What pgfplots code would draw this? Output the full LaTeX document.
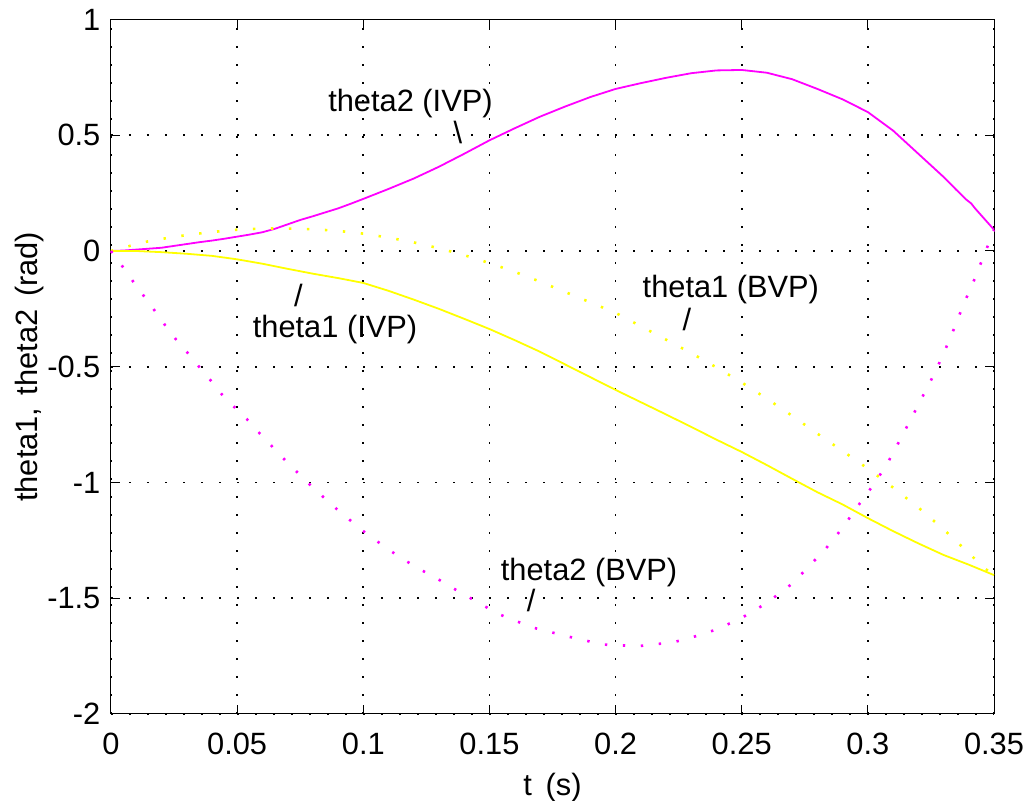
\documentclass[border=0pt]{standalone}
\usepackage{pgfplots}
\pgfplotsset{compat=1.18}
\usepackage{fontspec}
\setmainfont{Liberation Sans}
\definecolor{mmag}{rgb}{1,0,1}
\definecolor{myel}{rgb}{1,1,0}

% joint angles, initial value vs boundary value solution
\pgfplotstableread{
t       th
0       0
0.005   0.002
0.01    0.006
0.015   0.010
0.02    0.014
0.025   0.022
0.03    0.030
0.035   0.038
0.04    0.045
0.045   0.053
0.05    0.062
0.055   0.071
0.06    0.081
0.065   0.096
0.07    0.115
0.075   0.134
0.08    0.150
0.085   0.167
0.09    0.184
0.095   0.204
0.10    0.225
0.11    0.268
0.12    0.313
0.13    0.364
0.135   0.392
0.14    0.420
0.15    0.478
0.16    0.530
0.17    0.580
0.18    0.624
0.19    0.665
0.20    0.700
0.21    0.725
0.22    0.748
0.23    0.768
0.24    0.780
0.25    0.782
0.26    0.770
0.27    0.742
0.28    0.700
0.29    0.655
0.30    0.600
0.31    0.520
0.32    0.420
0.33    0.320
0.335   0.265
0.339   0.222
0.341   0.205
0.3425  0.184
0.35    0.092
}\thetaTwoIVP

\pgfplotstableread{
t       th
0       0
0.01    0.000
0.02    -0.005
0.03    -0.012
0.04    -0.021
0.05    -0.036
0.06    -0.055
0.07    -0.077
0.08    -0.098
0.09    -0.117
0.10    -0.138
0.11    -0.172
0.12    -0.210
0.13    -0.250
0.14    -0.293
0.15    -0.337
0.16    -0.385
0.17    -0.435
0.18    -0.490
0.19    -0.545
0.20    -0.600
0.21    -0.653
0.22    -0.706
0.23    -0.760
0.24    -0.815
0.25    -0.868
0.26    -0.925
0.27    -0.984
0.28    -1.042
0.29    -1.095
0.30    -1.154
0.31    -1.210
0.32    -1.263
0.33    -1.313
0.34    -1.355
0.35    -1.400
}\thetaOneIVP

\pgfplotstableread{
t       th
0       0
0.0075  0.022
0.014   0.040
0.02    0.052
0.03    0.069
0.04    0.082
0.05    0.092
0.06    0.097
0.07    0.097
0.08    0.094
0.09    0.087
0.10    0.075
0.11    0.058
0.12    0.037
0.13    0.012
0.14    -0.018
0.15    -0.052
0.16    -0.090
0.17    -0.132
0.18    -0.177
0.19    -0.222
0.20    -0.267
0.21    -0.325
0.22    -0.383
0.23    -0.441
0.24    -0.503
0.25    -0.568
0.26    -0.638
0.27    -0.712
0.28    -0.789
0.29    -0.864
0.30    -0.940
0.31    -1.022
0.32    -1.108
0.33    -1.202
0.34    -1.305
0.345   -1.357
0.35    -1.405
}\thetaOneBVP

\pgfplotstableread{
t       th
0       0
0.00463 -0.068
0.00885 -0.133
0.013   -0.194
0.0172  -0.256
0.0214  -0.320
0.0257  -0.381
0.0303  -0.439
0.0349  -0.500
0.0395  -0.559
0.0439  -0.619
0.0488  -0.673
0.0539  -0.727
0.0587  -0.785
0.07    -0.915
0.08    -1.022
0.09    -1.120
0.10    -1.210
0.11    -1.290
0.12    -1.360
0.13    -1.420
0.1355  -1.456
0.148   -1.534
0.154   -1.570
0.167   -1.626
0.181   -1.665
0.195   -1.700
0.209   -1.707
0.223   -1.690
0.230   -1.670
0.24    -1.635
0.25    -1.585
0.26    -1.520
0.27    -1.437
0.2826  -1.295
0.287   -1.237
0.2914  -1.174
0.2954  -1.111
0.2997  -1.048
0.3037  -0.986
0.3076  -0.920
0.311   -0.852
0.3143  -0.783
0.3176  -0.716
0.3208  -0.647
0.3241  -0.579
0.3273  -0.508
0.3302  -0.438
0.333   -0.367
0.3356  -0.295
0.3382  -0.223
0.3412  -0.151
0.35    0.090
}\thetaTwoBVP

\begin{document}
\fontsize{15.4}{18}\selectfont
\begin{tikzpicture}
\useasboundingbox (-55.5pt,-43.5pt) rectangle (460.5pt,357pt);
\begin{axis}[
    at={(0,0)}, anchor=south west,
    scale only axis,
    width=441.5pt, height=347.25pt,
    xmin=0, xmax=0.35, ymin=-2, ymax=1,
    xtick={0,0.05,0.1,0.15,0.2,0.25,0.3,0.35},
    xticklabels={0,0.05,0.1,0.15,0.2,0.25,0.3,0.35},
    ytick={-2,-1.5,-1,-0.5,0,0.5,1},
    yticklabels={-2,-1.5,-1,-0.5,0,0.5,1},
    tick align=inside,
    major tick length=4.5pt,
    tick style={black, line width=0.5pt},
    axis line style={black, line width=0.5pt},
    xticklabel style={yshift=-4pt},
    grid=major,
    major grid style={black, line width=0.9pt, dash pattern=on 0.9pt off 8.1pt},
    xlabel={t\hspace{2.5pt} (s)},
    ylabel={theta1,\hspace{2pt} theta2\hspace{2pt} (rad)},
    xlabel style={at={(axis description cs:0.5,0)}, anchor=north, yshift=-24.5pt},
    ylabel style={at={(axis description cs:0,0.5)}, anchor=center, rotate=0, yshift=40.5pt},
    clip=false,
]
\addplot[mmag, line width=0.9pt] table[x=t, y=th] {\thetaTwoIVP};
\addplot[myel, line width=0.9pt] table[x=t, y=th] {\thetaOneIVP};
\addplot[myel, line width=1.3pt, dash pattern=on 1.2pt off 7.8pt] table[x=t, y=th] {\thetaOneBVP};
\addplot[mmag, line width=1.3pt, dash pattern=on 1.2pt off 7.8pt] table[x=t, y=th] {\thetaTwoBVP};

\node at (axis cs:0.1187,0.637) {theta2 (IVP)};
\node at (axis cs:0.1375,0.512) {\textbackslash};
\node at (axis cs:0.0888,-0.341) {theta1 (IVP)};
\node at (axis cs:0.0743,-0.194) {/};
\node at (axis cs:0.2457,-0.168) {theta1 (BVP)};
\node at (axis cs:0.2283,-0.296) {/};
\node at (axis cs:0.1895,-1.389) {theta2 (BVP)};
\node at (axis cs:0.1665,-1.508) {/};
\end{axis}
\end{tikzpicture}
\end{document}
